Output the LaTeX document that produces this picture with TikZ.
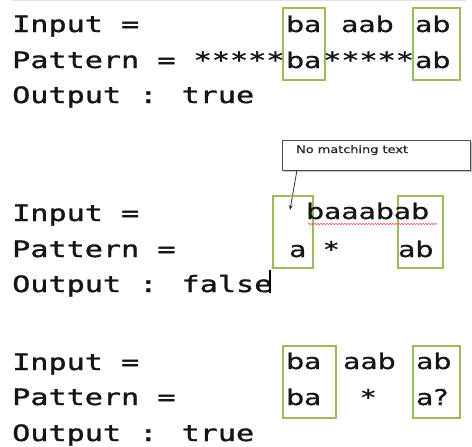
\documentclass[tikz,border=0pt]{standalone}
\usepackage{fontspec}
\newfontfamily\monof[FakeStretch=1.34,FakeBold=1.3]{DejaVu Sans Mono}
\newfontfamily\sansf[FakeStretch=1.3,FakeBold=0.9]{DejaVu Sans}
\newfontfamily\notef[FakeStretch=1.25,FakeBold=0.6]{DejaVu Sans}
\usetikzlibrary{decorations.pathmorphing,arrows.meta,shadows}
\definecolor{boxgreen}{HTML}{9BBB59}
\definecolor{ink}{HTML}{151515}
\tikzset{
  mono/.style={anchor=base west, inner sep=0pt, text=ink, font=\monof\fontsize{22.5}{27}\selectfont},
  sans/.style={anchor=base west, inner sep=0pt, text=ink, font=\sansf\fontsize{21.7}{26}\selectfont},
  gbox/.style={draw=boxgreen, line width=2.4pt, inner sep=0pt, minimum width=#1, minimum height=72pt},
  gbox/.default=42pt,
  callout/.style={draw=black!70, fill=white, line width=0.8pt, inner sep=0pt,
     minimum width=188pt, minimum height=30pt,
     drop shadow={shadow xshift=1.5pt, shadow yshift=-1.5pt, fill=black!45}},
  note/.style={anchor=base west, inner sep=0pt, text=black!85, font=\notef\fontsize{10.3}{12}\selectfont},
  squiggle/.style={draw=red!70, line width=0.6pt, decorate, decoration={snake, amplitude=0.7pt, segment length=3pt}}
}
\begin{document}
\begin{tikzpicture}[x=1pt, y=-1pt]
\useasboundingbox (0,0) rectangle (472,447);
\draw[black!12, line width=0.8pt] (12,0.6) -- (466,0.6);

% ---------- block 1 ----------
\node[gbox] (b1l) at (304,44) {};
\node[gbox=47pt] (b1r) at (436.5,44) {};
\node[mono] (in1) at (12,32) {Input =};
\node[sans] (in1a) at (286,32) {ba};
\node[sans] (in1b) at (341,32) {aab};
\node[sans] (in1c) at (415,32) {ab};
\node[mono] (pa1) at (12,68) {Pattern = *****};
\node[sans] (pa1a) at (286,68) {ba};
\node[mono] (pa1s) at (323,68) {*****};
\node[sans] (pa1c) at (415,68) {ab};
\node[mono] (out1) at (12,103) {Output : true};

% ---------- block 2 ----------
\node[callout] (co) at (376,155) {};
\node[note] (cot) at (296,153) {No matching text};
\coordinate (cofoot) at (297,170);
\coordinate (tip) at (290,210);
\draw[black!80, line width=0.8pt, -{Stealth[length=5pt,width=4pt]}] (cofoot) -- (tip);

\node[gbox=40pt] (b2l) at (293,232) {};
\node[gbox=45pt] (b2r) at (420.5,232) {};
\node[mono] (in2) at (12,221) {Input =};
\node[sans] (in2a) at (306,219) {baaabab};
\coordinate (sqa) at (308,224);
\coordinate (sqb) at (437,224);
\draw[squiggle] (sqa) -- (sqb);
\node[mono] (pa2) at (12,257) {Pattern =};
\node[sans] (pa2a) at (289,257) {a};
\node[sans] (pa2s) at (324,257) {*};
\node[sans] (pa2c) at (398,257) {ab};
\node[mono] (out2) at (12,292) {Output : false};
\coordinate (cura) at (270,270);
\coordinate (curb) at (270,293);
\draw[black, line width=1.2pt] (cura) -- (curb);

% ---------- block 3 ----------
\node[gbox=53pt] (b3l) at (309.5,382) {};
\node[gbox=47pt] (b3r) at (436.5,382) {};
\node[mono] (in3) at (12,370) {Input =};
\node[sans] (in3a) at (286,369) {ba};
\node[sans] (in3b) at (343,369) {aab};
\node[sans] (in3c) at (416,369) {ab};
\node[mono] (pa3) at (12,405) {Pattern =};
\node[sans] (pa3a) at (286,405) {ba};
\node[sans] (pa3s) at (361,405) {*};
\node[sans] (pa3c) at (416,405) {a?};
\node[mono] (out3) at (12,441) {Output : true};
\end{tikzpicture}
\end{document}
